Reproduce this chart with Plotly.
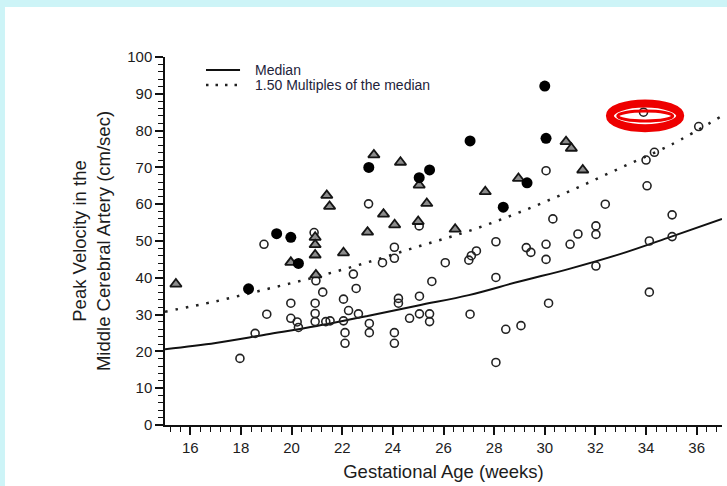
import plotly.graph_objects as go

# ---------------- data ----------------
curve_weeks = [15, 17, 19, 21, 23, 25, 27, 29, 31, 33, 35, 37]
median_vals = [20.6, 22.3, 24.6, 26.9, 29.6, 32.5, 35.3, 39.0, 42.5, 46.5, 51.2, 56.0]
mom150_vals = [30.8, 33.6, 36.9, 40.3, 44.2, 48.5, 52.7, 57.8, 63.6, 69.9, 76.2, 84.0]

open_x = [17.96, 18.56, 18.91, 19.02, 19.97, 19.97, 20.27, 20.22, 20.93, 20.93, 20.93, 20.89,
          20.96, 21.23, 21.35, 21.52, 22.05, 22.05, 22.11, 22.11, 22.25, 22.64, 22.55, 22.44,
          23.07, 23.07, 23.04, 23.59, 24.06, 24.06, 24.06, 24.06, 24.22, 24.22, 24.66, 25.05,
          25.05, 25.45, 25.45, 25.54, 25.04, 26.07, 27.0, 27.1, 27.3, 27.05, 28.07, 28.07,
          28.07, 28.46, 29.06, 29.27, 29.45, 30.05, 30.05, 30.05, 30.15, 30.32, 31.0, 31.31,
          32.02, 32.02, 32.02, 32.39, 34.0, 34.33, 34.04, 34.13, 34.13, 35.03, 35.03, 36.08,
          33.9]
open_y = [18.1, 24.9, 49.1, 30.1, 33.1, 29.0, 26.5, 28.0, 33.1, 30.3, 28.1, 52.3,
          39.2, 36.1, 28.1, 28.3, 34.2, 28.3, 25.1, 22.2, 31.1, 30.2, 37.1, 41.0,
          27.6, 25.1, 60.1, 44.1, 48.3, 45.3, 25.1, 22.2, 34.4, 33.1, 29.0, 35.0,
          30.2, 30.2, 28.1, 39.0, 54.1, 44.1, 44.8, 46.0, 47.3, 30.1, 49.8, 40.1,
          17.0, 26.0, 27.0, 48.2, 46.9, 69.1, 49.1, 45.0, 33.1, 56.0, 49.1, 51.9,
          54.1, 51.8, 43.2, 60.0, 72.0, 74.1, 65.0, 50.0, 36.1, 57.1, 51.2, 81.1,
          85.0]

filled_x = [18.3, 19.41, 19.97, 20.27, 23.05, 25.04, 25.45, 27.05, 28.36, 29.3, 30.05, 30.0]
filled_y = [37.0, 52.0, 51.0, 43.9, 70.0, 67.2, 69.3, 77.2, 59.2, 65.8, 77.9, 92.1]

tri_x = [15.43, 19.97, 20.96, 20.93, 20.93, 20.93, 21.39, 21.5, 22.05, 23.0, 23.25, 23.63,
         24.07, 24.3, 25.0, 25.04, 25.34, 26.46, 27.65, 28.96, 30.84, 31.05, 31.5]
tri_y = [38.3, 44.2, 40.8, 51.0, 49.0, 46.2, 62.4, 59.4, 46.8, 52.4, 73.4, 57.3,
         54.4, 71.4, 55.3, 65.2, 60.2, 53.2, 63.4, 67.0, 77.0, 75.2, 69.3]

circled_x = [33.9]
circled_y = [85.0]

x_tick_vals = [16, 18, 20, 22, 24, 26, 28, 30, 32, 34, 36]
y_tick_vals = [0, 10, 20, 30, 40, 50, 60, 70, 80, 90, 100]
legend_labels = ["Median", "1.50 Multiples of the median"]
x_title = "Gestational Age (weeks)"
y_title = "Peak Velocity in the<br>Middle Cerebral Artery (cm/sec)"

FONT = "Liberation Sans, Arial, sans-serif"
INK = "#1c1c1c"

fig = go.Figure()

fig.add_trace(go.Scatter(x=curve_weeks, y=median_vals, mode="lines",
                         line=dict(color="#111", width=2, shape="spline"),
                         name=legend_labels[0], showlegend=False, hoverinfo="skip"))
fig.add_trace(go.Scatter(x=curve_weeks, y=mom150_vals, mode="lines",
                         line=dict(color="#222", width=2.5, dash="2.5px,8px", shape="spline"),
                         name=legend_labels[1], showlegend=False, hoverinfo="skip"))

fig.add_trace(go.Scatter(x=open_x, y=open_y, mode="markers", showlegend=False,
                         marker=dict(symbol="circle-open", size=8, color="#222",
                                     line=dict(width=1.6, color="#222"))))
fig.add_trace(go.Scatter(x=tri_x, y=tri_y, mode="markers", showlegend=False,
                         marker=dict(symbol="triangle-up", size=10, color="#8c8c8c",
                                     line=dict(width=1.8, color="#151515"))))
fig.add_trace(go.Scatter(x=filled_x, y=filled_y, mode="markers", showlegend=False,
                         marker=dict(symbol="circle", size=11, color="#000",
                                     line=dict(width=0))))

shapes = [
    # page background: white sheet on light-cyan frame
    dict(type="rect", xref="paper", yref="paper", x0=-0.2873, x1=1.05, y0=-0.25, y1=1.1359,
         fillcolor="white", line=dict(width=0), layer="below"),
    # legend samples
    dict(type="line", xref="paper", yref="paper", x0=0.0736, x1=0.1347, y0=0.9647, y1=0.9647,
         line=dict(color="#111", width=2)),
    dict(type="line", xref="paper", yref="paper", x0=0.0736, x1=0.1347, y0=0.9239, y1=0.9239,
         line=dict(color="#222", width=2.5, dash="2.5px,7px")),
    # red highlight ellipse around the circled point
    dict(type="circle", xref="x", yref="y", xsizemode="pixel", ysizemode="pixel",
         xanchor=circled_x[0], yanchor=circled_y[0], x0=-33.6, x1=36.7, y0=-16, y1=8.7,
         line=dict(color="#ee0000", width=8), layer="above"),
    dict(type="circle", xref="x", yref="y", xsizemode="pixel", ysizemode="pixel",
         xanchor=circled_x[0], yanchor=circled_y[0], x0=-25.8, x1=29.2, y0=-8.8, y1=1.2,
         line=dict(color="#ee0000", width=3), layer="above"),
]

annotations = [
    dict(xref="paper", yref="paper", x=0.158, y=0.9647, text=legend_labels[0], showarrow=False,
         xanchor="left", yanchor="middle", font=dict(family=FONT, size=14, color="#23233a")),
    dict(xref="paper", yref="paper", x=0.158, y=0.9239, text=legend_labels[1], showarrow=False,
         xanchor="left", yanchor="middle", font=dict(family=FONT, size=14, color="#23233a")),
]

fig.update_layout(
    width=727, height=486,
    margin=dict(l=165, r=5, t=57, b=61),
    paper_bgcolor="#cdf4f7", plot_bgcolor="white",
    font=dict(family=FONT, color=INK),
    shapes=shapes, annotations=annotations,
    showlegend=False,
    xaxis=dict(range=[15, 37], tickvals=x_tick_vals, ticks="outside", ticklen=8, tickwidth=1.5,
               tickcolor="#111", showline=True, linecolor="#111", linewidth=1.5,
               showgrid=False, zeroline=False,
               minor=dict(dtick=0.4, tick0=16, ticks="outside", ticklen=5, tickwidth=1.3,
                          tickcolor="#111", showgrid=False),
               tickfont=dict(family=FONT, size=15, color=INK),
               title=dict(text=x_title, font=dict(family=FONT, size=18.5, color=INK), standoff=10)),
    yaxis=dict(range=[0, 100], tickvals=y_tick_vals, ticks="outside", ticklen=8, tickwidth=1.5,
               tickcolor="#111", showline=True, linecolor="#111", linewidth=1.5,
               showgrid=False, zeroline=False,
               minor=dict(dtick=2, ticks="outside", ticklen=5, tickwidth=1.3,
                          tickcolor="#111", showgrid=False),
               tickfont=dict(family=FONT, size=15, color=INK),
               title=dict(text=y_title, font=dict(family=FONT, size=18.5, color=INK), standoff=12)),
    xaxis2=dict(overlaying="x", anchor="y", range=[15, 37], tickvals=x_tick_vals, ticks="inside",
                ticklen=3, tickwidth=1.3, tickcolor="#111", showticklabels=False, showline=False,
                showgrid=False, zeroline=False,
                minor=dict(dtick=0.4, tick0=16, ticks="inside", ticklen=3, tickwidth=1.3,
                           tickcolor="#111", showgrid=False)),
    yaxis2=dict(overlaying="y", anchor="x", range=[0, 100], tickvals=y_tick_vals, ticks="inside",
                ticklen=3, tickwidth=1.3, tickcolor="#111", showticklabels=False, showline=False,
                showgrid=False, zeroline=False, side="left",
                minor=dict(dtick=2, ticks="inside", ticklen=3, tickwidth=1.3,
                           tickcolor="#111", showgrid=False)),
)

fig.write_html("out.html")
